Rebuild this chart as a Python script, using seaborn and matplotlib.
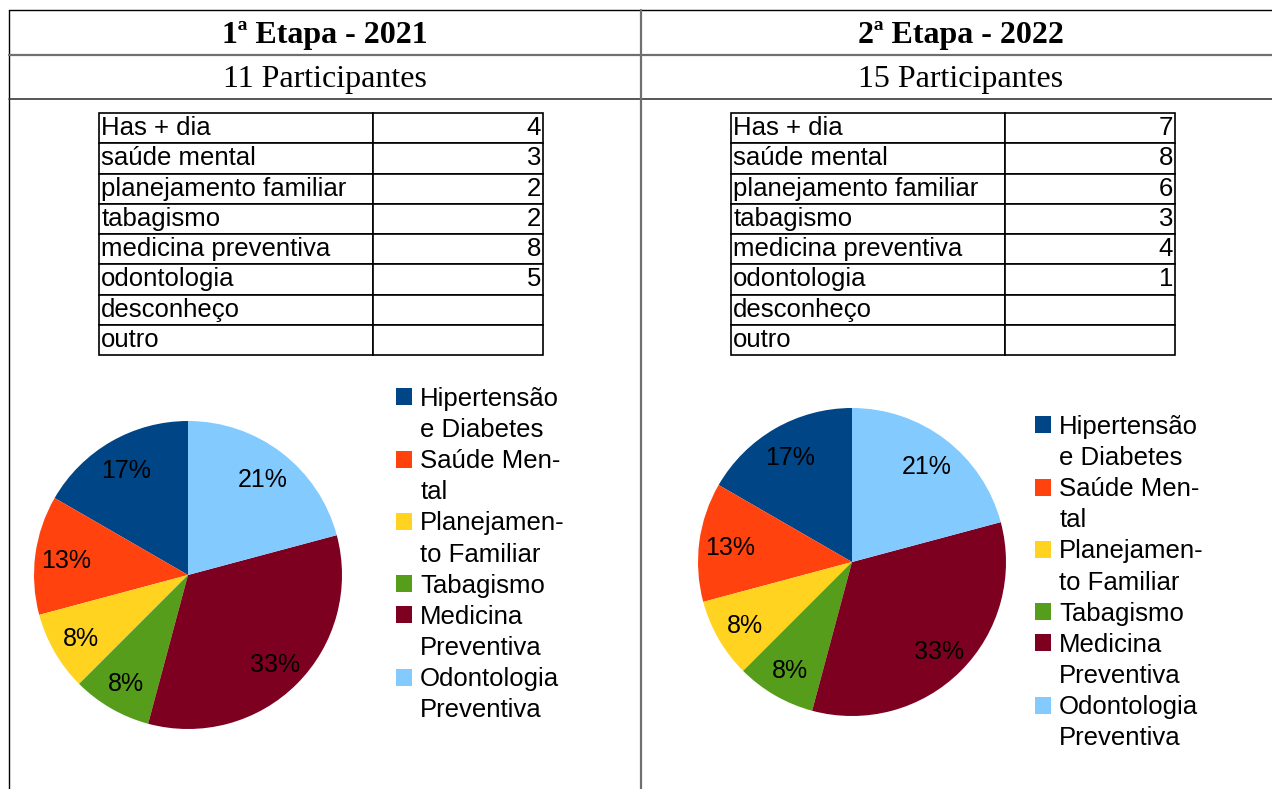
import seaborn as sns
import matplotlib.pyplot as plt
from matplotlib.lines import Line2D
from matplotlib.patches import Patch

# data
etapas = ["1ª Etapa - 2021", "2ª Etapa - 2022"]
participantes = ["11 Participantes", "15 Participantes"]
temas_tabela = ["Has + dia", "saúde mental", "planejamento familiar", "tabagismo",
                "medicina preventiva", "odontologia", "desconheço", "outro"]
respostas_2021 = ["4", "3", "2", "2", "8", "5", "", ""]
respostas_2022 = ["7", "8", "6", "3", "4", "1", "", ""]
temas_pizza = ["Hipertensão\ne Diabetes", "Saúde Men-\ntal", "Planejamen-\nto Familiar",
               "Tabagismo", "Medicina\nPreventiva", "Odontologia\nPreventiva"]
pizza_2021 = [4, 3, 2, 2, 8, 5]
pizza_2022 = [4, 3, 2, 2, 8, 5]  # the second chart shows the same percentages
cores = ["#004586", "#ff420e", "#ffd320", "#579d1c", "#7e0021", "#83caff"]

sns.set_theme(style="white", rc={"text.color": "black"})
plt.rcParams['font.family'] = ['Liberation Sans', 'DejaVu Sans']

W, H = 1272, 789
fig = plt.figure(figsize=(W / 100, H / 100), dpi=100)
fig.patch.set_facecolor("white")


def fx(x):
    return x / W


def fy(y):
    return 1 - y / H


def linha(x0, y0, x1, y1, cor, lw):
    fig.add_artist(Line2D([fx(x0), fx(x1)], [fy(y0), fy(y1)], color=cor, lw=lw,
                          transform=fig.transFigure))


# outer document table
linha(9, 10, W, 10, "black", 1.0)
linha(9, 10, 9, H, "black", 1.0)
linha(9, 55, W, 55, "#6f6f6f", 1.6)
linha(9, 99, W, 99, "#3a3a3a", 1.2)
linha(641, 10, 641, H, "#6f6f6f", 1.6)


def pct(p):
    return "%d%%" % int(p + 0.5)


def painel(col_x, tab_x, pie_cx, pie_cy, leg_x, leg_y, etapa, part, respostas, valores):
    fig.text(fx(col_x), fy(35), etapa, ha="center", va="center",
             family="Liberation Serif", weight="bold", fontsize=23)
    fig.text(fx(col_x), fy(80), part, ha="center", va="center",
             family="Liberation Serif", fontsize=23)

    # small table
    tx0, tx1, ty0, ty1 = tab_x, tab_x + 444, 113, 355
    ax_t = fig.add_axes([fx(tx0), fy(ty1), (tx1 - tx0) / W, (ty1 - ty0) / H])
    ax_t.axis("off")
    tab = ax_t.table(cellText=[[t, r] for t, r in zip(temas_tabela, respostas)],
                     colWidths=[274 / 444, 170 / 444], bbox=[0, 0, 1, 1],
                     cellLoc="left")
    tab.auto_set_font_size(False)
    tab.set_fontsize(18.5)
    for (r, c), cell in tab.get_celld().items():
        cell.set_linewidth(1.2)
        cell.set_edgecolor("black")
        if c == 0:
            cell.PAD = 0.008
        else:
            cell.PAD = 0.012
            cell.get_text().set_ha("right")

    # pie
    rad = 154
    ax_p = fig.add_axes([fx(pie_cx - rad), fy(pie_cy + rad), 2 * rad / W, 2 * rad / H])
    _, _, autotexts = ax_p.pie(valores, colors=cores, startangle=90, counterclock=True,
                               autopct=pct, pctdistance=0.80, wedgeprops=dict(linewidth=0),
                               textprops=dict(fontsize=18, color="black"))
    for t in autotexts:
        t.set_va("center_baseline")
    ax_p.set_xlim(-1, 1)
    ax_p.set_ylim(-1, 1)

    handles, labels = [], []
    for tema, cor in zip(temas_pizza, cores):
        for i, p in enumerate(tema.split("\n")):
            if i == 0:
                handles.append(Patch(facecolor=cor, edgecolor="none"))
            else:
                handles.append(Patch(facecolor="none", edgecolor="none"))
            labels.append(p)
    fig.legend(handles, labels, loc="upper left",
               bbox_to_anchor=(fx(leg_x), fy(leg_y)),
               bbox_transform=fig.transFigure, frameon=False, fontsize=18.5,
               handlelength=0.64, handleheight=0.64, handletextpad=0.30,
               labelspacing=0.277, borderpad=0, borderaxespad=0)


painel(325, 99, 188, 575, 396, 387, etapas[0], participantes[0], respostas_2021, pizza_2021)
painel(961, 731, 852, 562, 1035, 415, etapas[1], participantes[1], respostas_2022, pizza_2022)

fig.savefig("out.png", dpi=100)
